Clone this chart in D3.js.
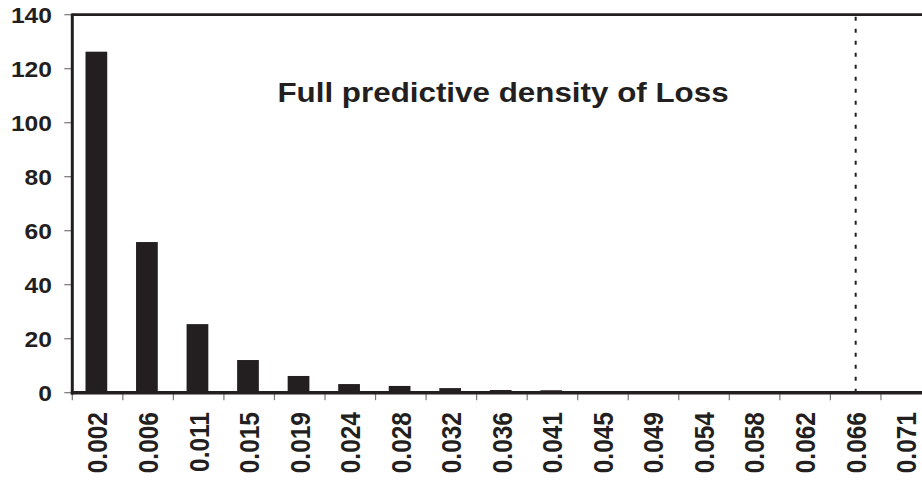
<!DOCTYPE html>
<html><head><meta charset="utf-8">
<script src="https://cdn.jsdelivr.net/npm/d3@7"></script>
<style>
html,body{margin:0;padding:0;background:#fff;overflow:hidden}
text{font-family:Arial,"Liberation Sans",Helvetica,sans-serif;font-weight:bold;fill:#231f20}
</style></head>
<body>
<svg id="c" width="922" height="482"></svg>
<script>
const categories = ["0.002","0.006","0.011","0.015","0.019","0.024","0.028","0.032","0.036","0.041","0.045","0.049","0.054","0.058","0.062","0.066","0.071"];
const density = [126.3,55.8,25.4,12.1,6.2,3.2,2.5,1.7,1.0,0.9,0.3,0.2,0.1,0.1,0,0,0];
const yTicks = [0,20,40,60,80,100,120,140];
const markerCategory = "0.066";
const title = "Full predictive density of Loss";

(function () {
const svg = d3.select("#c");
const dark = "#231f20";
const stretch = 1.12;
const mLeft = 72.3, mTop = 14.7, mBottom = 392.7, step = 50.54;
const x = d3.scaleBand().domain(categories).range([mLeft, mLeft + step * categories.length]).padding(0);
const y = d3.scaleLinear().domain([0,140]).range([mBottom, mTop]);

// bars
const barW = x.bandwidth() * 0.43;
svg.append("g").selectAll("rect").data(categories).join("rect")
  .attr("x", (c) => x(c) + x.bandwidth()/2 - barW/2 - 1.2)
  .attr("width", barW)
  .attr("y", (c, i) => y(density[i]))
  .attr("height", (c, i) => y(0) - y(density[i]))
  .attr("fill", dark);

// dotted marker
const mx = x(markerCategory) + x.bandwidth()/2;
svg.append("line").attr("x1", mx).attr("x2", mx).attr("y1", y(140)+2).attr("y2", y(0))
  .attr("stroke", dark).attr("stroke-width", 2).attr("stroke-dasharray", "4,8");

// y axis ticks
svg.append("g").selectAll("line").data(yTicks).join("line")
  .attr("x1", mLeft - 8).attr("x2", mLeft).attr("y1", d => y(d)).attr("y2", d => y(d))
  .attr("stroke", "#777").attr("stroke-width", 1.2);
svg.append("g").selectAll("text").data(yTicks).join("text")
  .attr("transform", d => `translate(52,${y(d)}) scale(${stretch},1)`)
  .attr("text-anchor", "end").attr("dy", "0.36em")
  .attr("font-size", 22).text(d => d);

// x axis ticks
const bounds = categories.map(c => x(c)).concat([x.range()[1]]);
svg.append("g").selectAll("line").data(bounds).join("line")
  .attr("x1", d => d).attr("x2", d => d).attr("y1", y(0)).attr("y2", y(0) + 7.5)
  .attr("stroke", "#777").attr("stroke-width", 1.2);
svg.append("g").selectAll("text").data(categories).join("text")
  .attr("transform", c => `translate(${x(c) + x.bandwidth()/2},412) scale(${stretch},1) rotate(-90)`)
  .attr("text-anchor", "end").attr("dy", "0.36em")
  .attr("font-size", 24.5).text(c => c);

// frame lines
svg.append("line").attr("x1", mLeft).attr("x2", 922).attr("y1", mTop).attr("y2", mTop)
  .attr("stroke", dark).attr("stroke-width", 2.7);
svg.append("line").attr("x1", mLeft).attr("x2", mLeft).attr("y1", mTop - 1.3).attr("y2", mBottom + 1.7)
  .attr("stroke", dark).attr("stroke-width", 3);
svg.append("line").attr("x1", mLeft - 1.5).attr("x2", 922).attr("y1", mBottom).attr("y2", mBottom)
  .attr("stroke", dark).attr("stroke-width", 3.5);

// title
svg.append("text").attr("transform", `translate(503,101.5) scale(${stretch},1)`)
  .attr("text-anchor", "middle").attr("font-size", 28).text(title);
})();
</script>
</body></html>
